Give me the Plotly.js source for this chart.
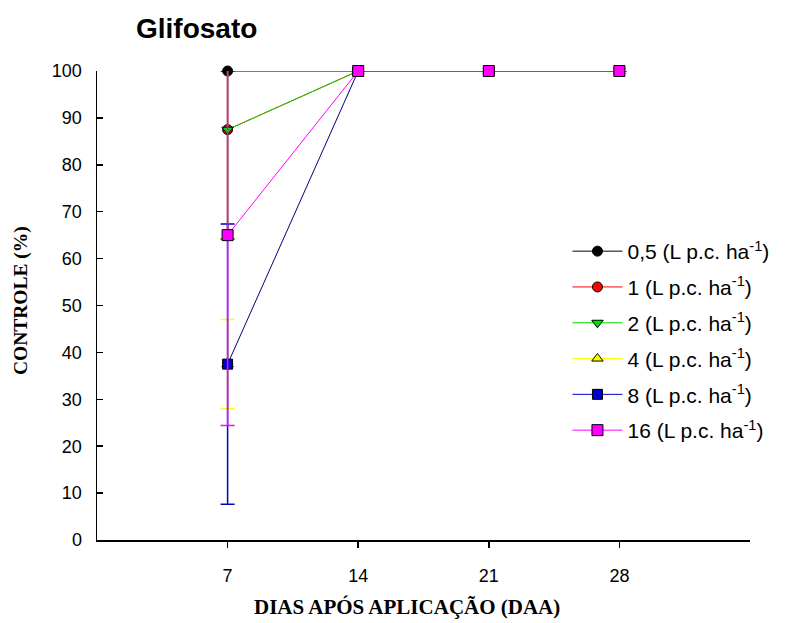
<!DOCTYPE html>
<html>
<head>
<meta charset="utf-8">
<script src="https://cdn.plot.ly/plotly-3.0.1.min.js"></script>
<style>
  html, body { margin: 0; padding: 0; background: #ffffff; }
  #chart { width: 786px; height: 623px; }
</style>
</head>
<body>
<div id="chart"></div>
<script>
// Days after application (DAA)
const days = [7, 14, 21, 28];

// Dose labels (L p.c. ha-1)
const doseLabels = ['0,5', '1', '2', '4', '8', '16'];

// Control (%) per dose
const control_0_5 = [100, 100, 100, 100];
const control_1   = [87.5, 100, 100, 100];
const control_2   = [87.5, 100, 100, 100];
const control_4   = [37.5, 100, 100, 100];
const control_8   = [37.5, 100, 100, 100];
const control_16  = [65, 100, 100, 100];

// Error (±) per dose
const err_0_5 = [0, 0, 0, 0];
const err_1   = [23.3, 0, 0, 0];
const err_2   = [23.3, 0, 0, 0];
const err_4   = [9.5, 0, 0, 0];
const err_8   = [29.9, 0, 0, 0];
const err_16  = [40.6, 0, 0, 0];

const series = [
  {y: control_0_5, e: err_0_5, color: '#000000', symbol: 'circle', size: 10},
  {y: control_1,   e: err_1,   color: '#ff0000', symbol: 'circle', size: 10},
  {y: control_2,   e: err_2,   color: '#00dd00', symbol: 'triangle-down', size: 10},
  {y: control_4,   e: err_4,   color: '#ffff00', symbol: 'triangle-up', size: 10},
  {y: control_8,   e: err_8,   color: '#0000cc', symbol: 'square', size: 10},
  {y: control_16,  e: err_16,  color: '#ff00ff', symbol: 'square', size: 11}
];

const traces = series.map((s, i) => ({
  type: 'scatter',
  mode: 'lines+markers',
  x: days,
  y: s.y,
  name: doseLabels[i] + ' (L p.c. ha<sup>-1</sup>)',
  legendgroup: 'g' + i,
  cliponaxis: false,
  line: {color: s.color, width: 1},
  marker: {color: s.color, symbol: s.symbol, size: s.size, line: {color: '#000000', width: 1}},
  error_y: {type: 'data', array: s.e, visible: true, color: s.color, thickness: 1.5, width: 7}
}));

const layout = {
  width: 786,
  height: 623,
  margin: {l: 97, r: 35, t: 71, b: 83},
  paper_bgcolor: '#ffffff',
  plot_bgcolor: '#ffffff',
  showlegend: true,
  font: {family: 'Arial, Liberation Sans, sans-serif', color: '#000000'},
  title: {
    text: '<b>Glifosato</b>',
    font: {family: 'Arial, Liberation Sans, sans-serif', size: 28, color: '#000000'},
    x: 136 / 786, xanchor: 'left', xref: 'container',
    y: 1 - 28 / 623, yanchor: 'middle', yref: 'container'
  },
  xaxis: {
    range: [0, 35],
    tickvals: days,
    ticktext: days.map(String),
    ticks: 'outside', ticklen: 6, tickwidth: 1.5, tickcolor: '#000000',
    showline: true, linecolor: '#000000', linewidth: 1.5,
    showgrid: false, zeroline: false,
    tickfont: {size: 18, family: 'Arial, Liberation Sans, sans-serif'},
    ticklabelstandoff: 13,
    title: {text: ''}
  },
  yaxis: {
    range: [0, 100],
    dtick: 10,
    ticks: 'inside', ticklen: 6, tickwidth: 1.5, tickcolor: '#000000',
    showline: true, linecolor: '#000000', linewidth: 1.5,
    showgrid: false, zeroline: false,
    tickfont: {size: 18, family: 'Arial, Liberation Sans, sans-serif'},
    ticklabelstandoff: 10,
    title: {text: ''}
  },
  legend: {
    x: (574 - 97) / 654 - 0.01, xanchor: 'left',
    y: (540 - 231) / 469, yanchor: 'top',
    bgcolor: 'rgba(0,0,0,0)',
    font: {size: 21, family: 'Arial, Liberation Sans, sans-serif'},
    traceorder: 'grouped',
    tracegroupgap: 5.5,
    itemwidth: 50
  },
  annotations: [{
    text: '<b>DIAS APÓS APLICAÇÃO (DAA)</b>',
    xref: 'paper', yref: 'paper',
    x: (407 - 97) / 654, xanchor: 'center',
    y: -(607 - 540) / 469, yanchor: 'middle',
    showarrow: false,
    font: {family: 'Liberation Serif, Times New Roman, serif', size: 21, color: '#000000'}
  }, {
    text: '<b>CONTROLE (%)</b>',
    xref: 'paper', yref: 'paper',
    x: (21 - 97) / 654, xanchor: 'center',
    y: (540 - 301) / 469, yanchor: 'middle',
    textangle: -90,
    showarrow: false,
    font: {family: 'Liberation Serif, Times New Roman, serif', size: 19.5, color: '#000000'}
  }]
};

Plotly.newPlot('chart', traces, layout, {displayModeBar: false, staticPlot: true});
</script>
</body>
</html>
